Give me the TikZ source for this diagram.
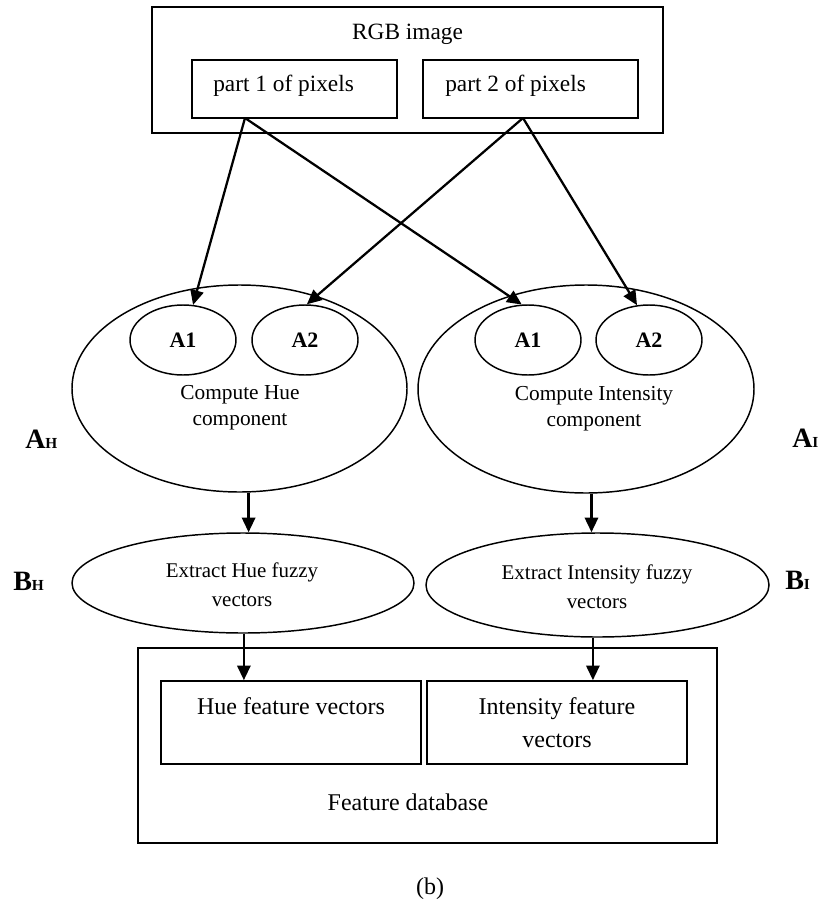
\documentclass[tikz,border=0pt]{standalone}
\usepackage{fontspec}
\setmainfont{Liberation Serif}
\usetikzlibrary{arrows.meta,fit,shapes.geometric}
\newcommand{\pxlen}{0.75pt}
\begin{document}
\begin{tikzpicture}[x=0.75pt,y=-0.75pt,
  boxframe/.style={draw, line width=1.25pt, inner sep=0pt},
  ovalshape/.style={draw, ellipse, line width=1.1pt, inner sep=0pt},
  arr/.style={line width=1.7pt, -{Triangle[length=11pt,width=10pt]}},
  boxtext/.style={font=\fontsize{17.5}{21}\selectfont, inner sep=0pt},
  ovaltext/.style={font=\fontsize{16}{19.5}\selectfont, align=center, inner sep=0pt},
  fuzzytext/.style={font=\fontsize{15.7}{21.75}\selectfont, align=center, inner sep=0pt},
  feattext/.style={font=\fontsize{18}{24.75}\selectfont, align=center, inner sep=0pt},
  smalltag/.style={font=\fontsize{16.5}{20}\selectfont\bfseries},
  sidelabel/.style={font=\fontsize{21}{24}\selectfont\bfseries, inner sep=0pt, anchor=base west}
]
\useasboundingbox (0,0) rectangle (821,906);

% RGB image with its two pixel groups
\node[boxframe, fit={(152,7) (663,133)}] (rgb) {};
\node[boxtext, anchor=base] (rgbtxt) at (407.5,40) {RGB image};
\node[boxframe, fit={(192,60) (397,118)}] (p1) {};
\node[boxframe, fit={(423,60) (638,118)}] (p2) {};
\node[boxtext, anchor=base west] (p1txt) at (213,92) {part 1 of pixels};
\node[boxtext, anchor=base west] (p2txt) at (445,92) {part 2 of pixels};
\coordinate (p1out) at (245,118);
\coordinate (p2out) at (523,118);

% Hue and intensity components
\node[ovalshape, minimum width=335*\pxlen, minimum height=207*\pxlen] (hue) at (239.5,388.5) {};
\node[ovalshape, minimum width=336*\pxlen, minimum height=208*\pxlen] (int) at (586,389) {};
\node[ovalshape, smalltag, minimum width=106*\pxlen, minimum height=70*\pxlen] (ha1) at (183,340) {A1};
\node[ovalshape, smalltag, minimum width=106*\pxlen, minimum height=70*\pxlen] (ha2) at (305,340) {A2};
\node[ovalshape, smalltag, minimum width=106*\pxlen, minimum height=70*\pxlen] (ia1) at (528,340) {A1};
\node[ovalshape, smalltag, minimum width=106*\pxlen, minimum height=70*\pxlen] (ia2) at (649,340) {A2};
\node[ovaltext] (huetxt) at (240,408) {Compute Hue\\component};
\node[ovaltext] (inttxt) at (594,409) {Compute Intensity\\component};

% Fuzzy vector extraction
\node[ovalshape, minimum width=342*\pxlen, minimum height=100*\pxlen] (hueb) at (243,583) {};
\node[ovalshape, minimum width=343*\pxlen, minimum height=104*\pxlen] (intb) at (597.5,585) {};
\node[fuzzytext] (huebtxt) at (242,585) {Extract Hue fuzzy\\vectors};
\node[fuzzytext] (intbtxt) at (597,587) {Extract Intensity fuzzy\\vectors};

% Feature database
\node[boxframe, fit={(138,648) (717,843)}] (db) {};
\node[boxframe, fit={(161,681) (421,764)}] (hbox) {};
\node[boxframe, fit={(427,681) (687,764)}] (ibox) {};
\node[feattext, anchor=base] (hboxtxt) at (291,714) {Hue feature vectors};
\node[feattext] (iboxtxt) at (557,722.5) {Intensity feature\\vectors};
\node[feattext, anchor=base] (dbtxt) at (408,810) {Feature database};
\node[feattext, anchor=base] (caption) at (430,894) {(b)};

% Side labels
\node[sidelabel] (ah) at (25,448) {A{\fontsize{11.5}{12}\selectfont H}};
\node[sidelabel] (ai) at (792,447) {A{\fontsize{11.5}{12}\selectfont I}};
\node[sidelabel] (bh) at (13,590) {B{\fontsize{11.5}{12}\selectfont H}};
\node[sidelabel] (bi) at (785,589) {B{\fontsize{11.5}{12}\selectfont I}};

% Connectors
\draw[arr] (p1out) -- (ha1.74);
\draw[arr] (p1out) -- (ia1.100);
\draw[arr] (p2out) -- (ha2.87);
\draw[arr] (p2out) -- (ia2.109);
\draw[arr] (hue.-85) -- (hue.-85 |- hueb.north);
\draw[arr] (int.-87) -- (int.-87 |- intb.north);
\draw[arr] (hueb.-89) -- (hueb.-89 |- hbox.north);
\draw[arr] (intb.-95) -- (intb.-95 |- ibox.north);
\end{tikzpicture}
\end{document}
